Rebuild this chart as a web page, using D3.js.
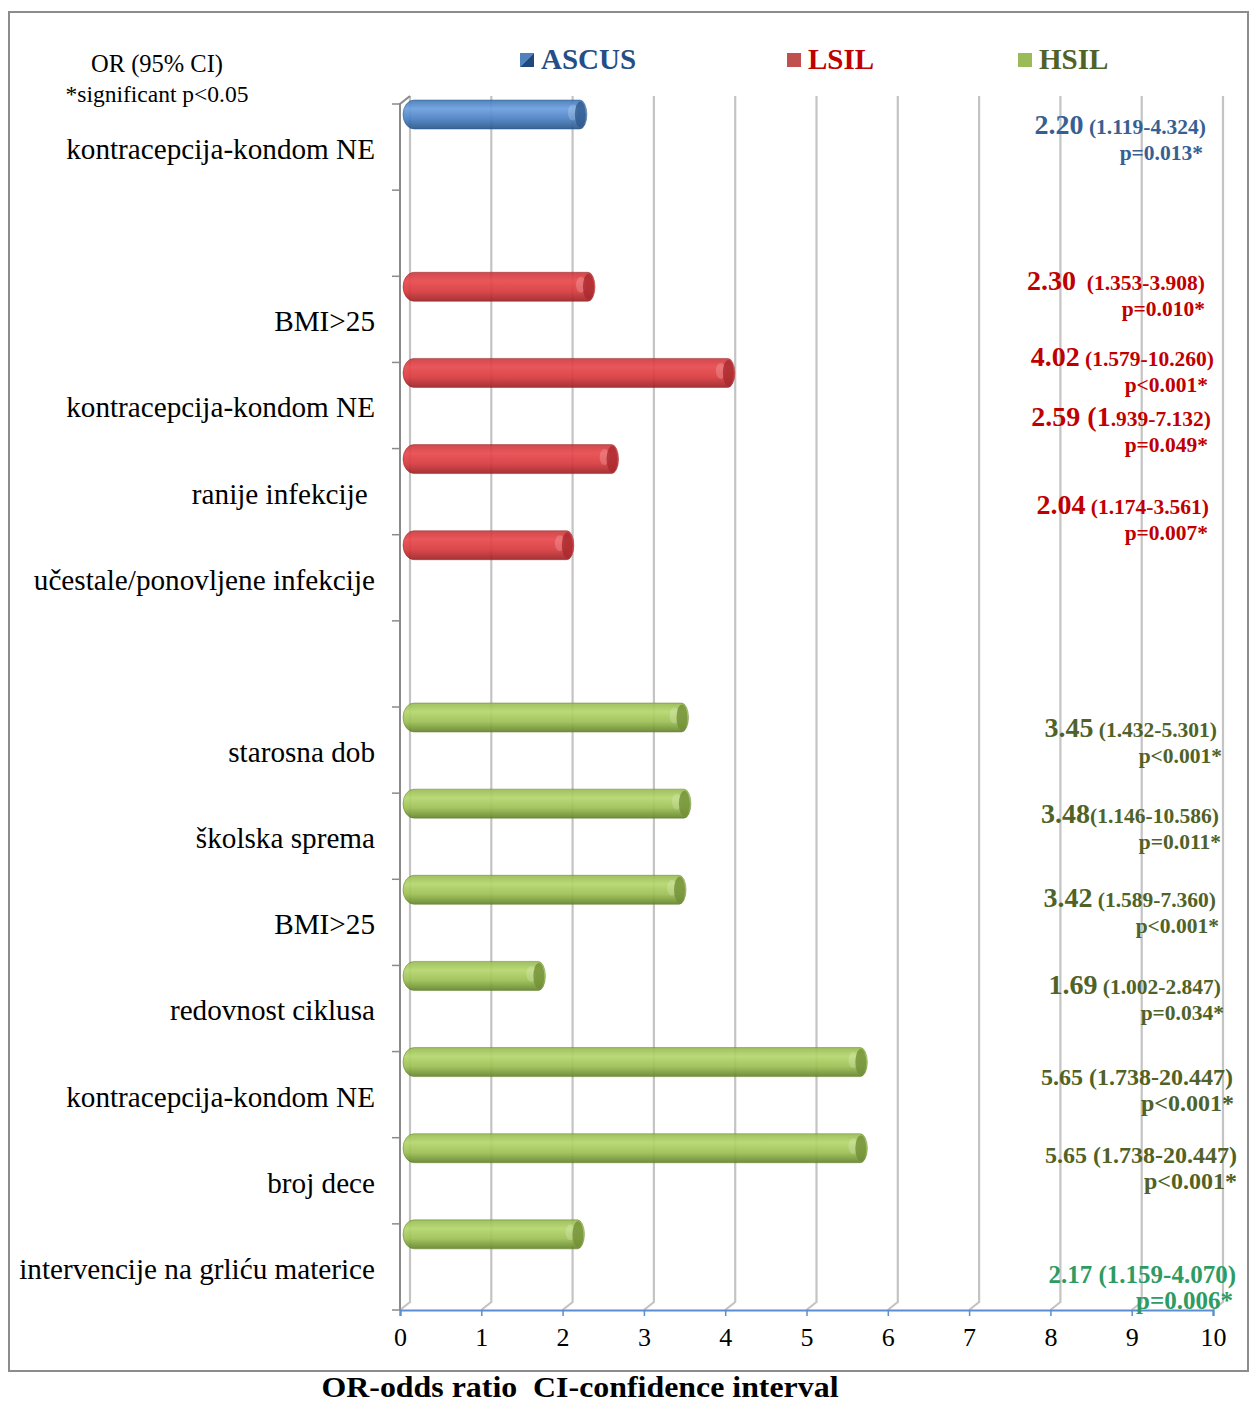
<!DOCTYPE html>
<html>
<head>
<meta charset="utf-8">
<script src="https://cdn.jsdelivr.net/npm/d3@7"></script>
<style>
  html, body { margin: 0; padding: 0; background: #fff; }
  svg { display: block; font-family: "Liberation Serif", "Times New Roman", serif; }
</style>
</head>
<body>
<svg id="chart" width="1249" height="1405"></svg>
<script>
// ---- data ----
const groups = ["ASCUS", "LSIL", "HSIL"];

// one entry per row slot (top to bottom); empty slots separate the groups
const rowLabels = [
  "kontracepcija-kondom NE", "",
  "BMI>25", "kontracepcija-kondom NE", "ranije infekcije\u00a0", "učestale/ponovljene infekcije", "",
  "starosna dob", "školska sprema", "BMI>25", "redovnost ciklusa",
  "kontracepcija-kondom NE", "broj dece", "intervencije na grliću materice"
];
const rowGroup = ["ASCUS", null, "LSIL", "LSIL", "LSIL", "LSIL", null,
  "HSIL", "HSIL", "HSIL", "HSIL", "HSIL", "HSIL", "HSIL"];
const oddsRatio = [2.20, null, 2.30, 4.02, 2.59, 2.04, null,
  3.45, 3.48, 3.42, 1.69, 5.65, 5.65, 2.17];
const orText = ["2.20", null, "2.30", "4.02", "2.59", "2.04", null,
  "3.45", "3.48", "3.42", "1.69", "5.65", "5.65", "2.17"];
const ciText = ["(1.119-4.324)", null, "(1.353-3.908)", "(1.579-10.260)", "(1.939-7.132)", "(1.174-3.561)", null,
  "(1.432-5.301)", "(1.146-10.586)", "(1.589-7.360)", "(1.002-2.847)", "(1.738-20.447)", "(1.738-20.447)", "(1.159-4.070)"];
const pText = ["p=0.013*", null, "p=0.010*", "p<0.001*", "p=0.049*", "p=0.007*", null,
  "p<0.001*", "p=0.011*", "p<0.001*", "p=0.034*", "p<0.001*", "p<0.001*", "p=0.006*"];
const xTicks = [0, 1, 2, 3, 4, 5, 6, 7, 8, 9, 10];

// ---- layout ----
const depthX = 10, depthY = 8;           // 3D wall offset
const svg = d3.select("#chart");

const x = d3.scaleLinear().domain([0, 10]).range([400, 1213]);
const y = d3.scaleBand().domain(d3.range(rowLabels.length)).range([104, 1310]).paddingInner(0).paddingOuter(0);
const barH = 29, barOff = -4;

// annotation placement (vertical shift from the bar centre, right edges, font sizes)
const annLayout = [
  { dy: 10, r1: 1206, r2: 1203, big: 28, small: 21.5 }, null,
  { dy: -6, r1: 1205, r2: 1205, big: 28, small: 21.5, gap: "\u00a0\u00a0" },
  { dy: -16, r1: 1214, r2: 1208, big: 28, small: 21.5 },
  { dy: -42, r1: 1211, r2: 1208, big: 28, small: 21.5, split: 2 },
  { dy: -40, r1: 1209, r2: 1208, big: 28, small: 21.5 }, null,
  { dy: 10, r1: 1217, r2: 1222, big: 28, small: 21.5 },
  { dy: 10, r1: 1219, r2: 1221, big: 28, small: 21.5, gap: "" },
  { dy: 8, r1: 1216, r2: 1219, big: 28, small: 21.5 },
  { dy: 9, r1: 1221, r2: 1224, big: 28, small: 21.5 },
  { dy: 14, r1: 1233, r2: 1234, big: 24, small: 24 },
  { dy: 6, r1: 1237, r2: 1237, big: 24, small: 24 },
  { dy: 40, r1: 1236, r2: 1233, big: 25, small: 25, color: "#2e9b63" }
];

const style = {
  ASCUS: { text: "#376092", legend: "#254e86", stops: ["#4478b8", "#6a9fde", "#4a7fc2", "#295689"], cap: "#30598c", edge: "#26507f" },
  LSIL:  { text: "#c00000", legend: "#c00000", stops: ["#cc3a3e", "#e8484c", "#d8393d", "#9c2226"], cap: "#a8292d", edge: "#932326" },
  HSIL:  { text: "#4f6228", legend: "#4f6228", stops: ["#98ba52", "#b4d66c", "#9bbf52", "#64842c"], cap: "#728f36", edge: "#5c7a28" }
};

// ---- gradients ----
const defs = svg.append("defs");
groups.forEach(g => {
  const lg = defs.append("linearGradient").attr("id", "grad-" + g)
    .attr("x1", 0).attr("y1", 0).attr("x2", 0).attr("y2", 1);
  [0, 0.3, 0.65, 1].forEach((o, i) => lg.append("stop").attr("offset", o).attr("stop-color", style[g].stops[i]));
});
const lgA = defs.append("linearGradient").attr("id", "legend-ascus")
  .attr("x1", 0).attr("y1", 0).attr("x2", 1).attr("y2", 1);
lgA.append("stop").attr("offset", 0.5).attr("stop-color", "#4f81bd");
lgA.append("stop").attr("offset", 0.5).attr("stop-color", "#1f497d");

// ---- outer frame ----
svg.append("rect").attr("x", 9).attr("y", 12).attr("width", 1239).attr("height", 1359)
  .attr("fill", "none").attr("stroke", "#8c8c8c").attr("stroke-width", 2);

// ---- back wall gridlines with floor diagonals ----
const grid = svg.append("g");
xTicks.forEach(t => {
  const fx = x(t), bx = fx + depthX;
  grid.append("path")
    .attr("d", `M${bx},${y.range()[0] - depthY} L${bx},${y.range()[1] - depthY} L${fx},${y.range()[1]}`)
    .attr("fill", "none").attr("stroke", "#c4c4c4").attr("stroke-width", 2.2);
});

// ---- left wall axis ----
const yAxisG = svg.append("g");
yAxisG.append("path")
  .attr("d", `M${x(0) + depthX},${y.range()[0] - depthY} L${x(0)},${y.range()[0]} L${x(0)},${y.range()[1]}`)
  .attr("fill", "none").attr("stroke", "#8a8a8a").attr("stroke-width", 2);
const boundaries = d3.range(rowLabels.length + 1).map(i => y.range()[0] + i * y.step());
yAxisG.selectAll("line.tick").data(boundaries).join("line")
  .attr("x1", x(0) - 8).attr("x2", x(0))
  .attr("y1", d => d).attr("y2", d => d)
  .attr("stroke", "#8a8a8a").attr("stroke-width", 1.5);

// ---- x axis ----
const xAxis = d3.axisBottom(x).tickValues(xTicks).tickSize(6).tickPadding(12).tickFormat(d3.format("d"));
const xg = svg.append("g").attr("transform", `translate(0,${y.range()[1]})`).call(xAxis);
xg.select(".domain").attr("stroke", "#5b8dd0").attr("stroke-width", 2.2);
xg.selectAll(".tick line").attr("stroke", "#5b8dd0").attr("stroke-width", 1.5);
xg.selectAll(".tick text").attr("font-family", "Liberation Serif, serif").attr("font-size", 26)
  .attr("fill", "#000");

// ---- bars (cylinders) ----
const rows = d3.range(rowLabels.length).filter(i => oddsRatio[i] != null);
function cylinder(x0, x1, top, h, rl, rr) {
  const ry = h / 2;
  return `M${x0 + rl},${top} L${x1 - rr},${top} A${rr},${ry} 0 0 1 ${x1 - rr},${top + h} ` +
         `L${x0 + rl},${top + h} A${rl},${ry} 0 0 1 ${x0 + rl},${top} Z`;
}
const bars = svg.append("g").selectAll("g.bar").data(rows).join("g").attr("class", "bar");
bars.append("path")
  .attr("d", i => cylinder(x(0) + 3, x(oddsRatio[i]) + 8, y(i) + barOff, barH, 11, 7))
  .attr("fill", i => `url(#grad-${rowGroup[i]})`)
  .attr("fill-opacity", 0.92)
  .attr("stroke", i => style[rowGroup[i]].edge).attr("stroke-width", 0.8).attr("stroke-opacity", 0.6);
// soft sheen just before the end face
bars.append("ellipse")
  .attr("cx", i => x(oddsRatio[i]) + 8 - 14)
  .attr("cy", i => y(i) + barOff + barH / 2 - 2)
  .attr("rx", 5).attr("ry", 8)
  .attr("fill", "#fff").attr("fill-opacity", 0.18);
// end face
bars.append("ellipse")
  .attr("cx", i => x(oddsRatio[i]) + 8 - 6.5)
  .attr("cy", i => y(i) + barOff + barH / 2)
  .attr("rx", 5.5).attr("ry", barH / 2 - 1.5)
  .attr("fill", i => style[rowGroup[i]].cap).attr("fill-opacity", 0.8);

// ---- row labels ----
svg.append("g").selectAll("text").data(d3.range(rowLabels.length).filter(i => rowLabels[i]))
  .join("text")
  .attr("x", 375).attr("y", i => y(i) + 55)
  .attr("text-anchor", "end").attr("font-size", 29.2).attr("fill", "#000")
  .text(i => rowLabels[i]);

// ---- OR / CI / p annotations ----
const ann = svg.append("g").attr("font-weight", "bold");
rows.forEach(i => {
  const L = annLayout[i];
  const col = L.color || style[rowGroup[i]].text;
  const cy = y(i) + barOff + barH / 2 + L.dy;
  const t1 = ann.append("text").attr("x", L.r1).attr("y", cy + 9).attr("text-anchor", "end").attr("fill", col);
  if (L.split) {
    // opening bracket and first digit share the large size
    t1.append("tspan").attr("font-size", L.big).text(orText[i] + " " + ciText[i].slice(0, L.split));
    t1.append("tspan").attr("font-size", L.small).text(ciText[i].slice(L.split));
  } else {
    t1.append("tspan").attr("font-size", L.big).text(orText[i]);
    t1.append("tspan").attr("font-size", L.small).text((L.gap != null ? L.gap : " ") + ciText[i]);
  }
  ann.append("text").attr("x", L.r2).attr("y", cy + 27 + 8).attr("text-anchor", "end")
    .attr("fill", col).attr("font-size", L.small).text(pText[i]);
});

// ---- header notes ----
svg.append("text").attr("x", 157).attr("y", 72).attr("text-anchor", "middle")
  .attr("font-size", 24.5).text("OR (95% CI)");
svg.append("text").attr("x", 157).attr("y", 102).attr("text-anchor", "middle")
  .attr("font-size", 23.5).text("*significant p<0.05");

// ---- legend ----
const legendX = [520, 787, 1018];
const lg = svg.append("g").selectAll("g").data(groups).join("g")
  .attr("transform", (d, i) => `translate(${legendX[i]},53)`);
lg.append("rect").attr("width", 14).attr("height", 14)
  .attr("fill", d => d === "ASCUS" ? "url(#legend-ascus)" : (d === "LSIL" ? "#c0504d" : "#9bbb59"));
lg.append("text").attr("x", 21).attr("y", 16).attr("font-size", 29).attr("font-weight", "bold")
  .attr("fill", d => style[d].legend).text(d => d);

// ---- caption ----
svg.append("text").attr("x", 580).attr("y", 1397).attr("text-anchor", "middle")
  .attr("font-size", 28.5).attr("font-weight", "bold")
  .attr("textLength", 517).attr("lengthAdjust", "spacingAndGlyphs")
  .text("OR-odds ratio\u00a0 CI-confidence interval");
</script>
</body>
</html>
